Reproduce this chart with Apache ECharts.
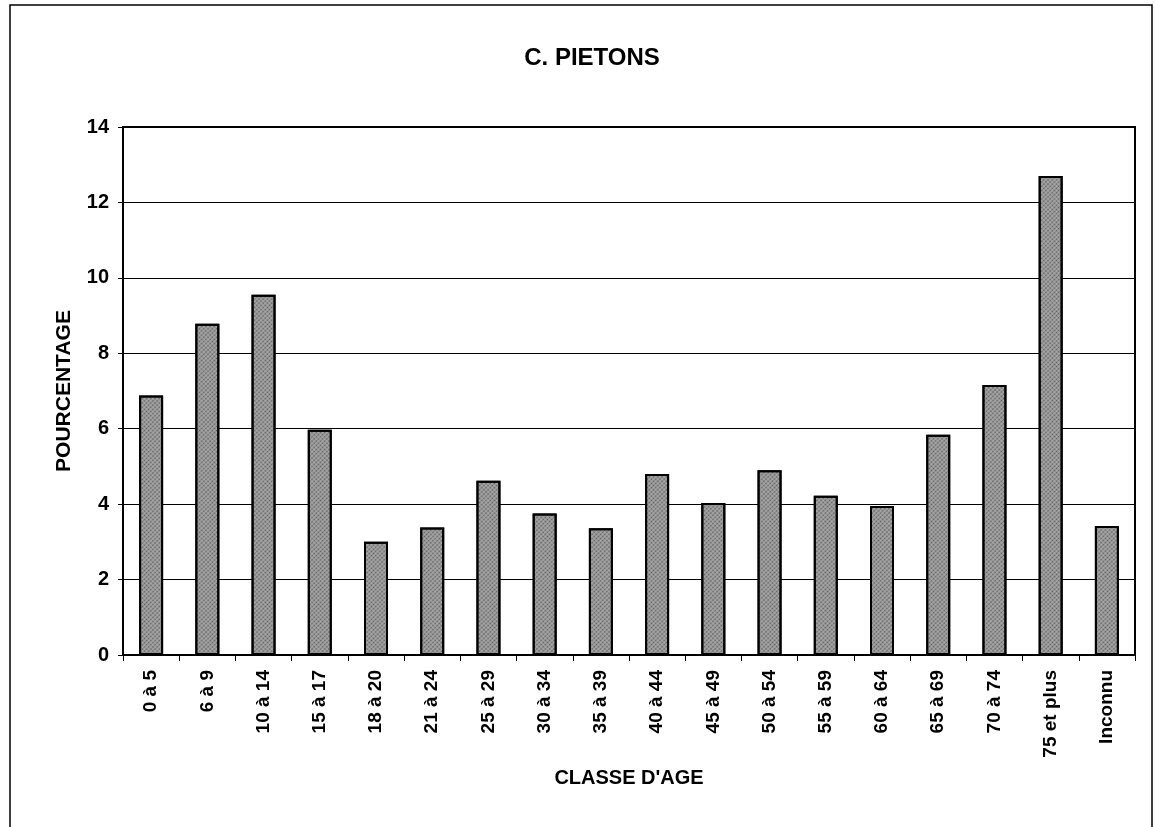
<!DOCTYPE html>
<html>
<head>
<meta charset="utf-8">
<script src="https://cdn.jsdelivr.net/npm/echarts@6/dist/echarts.min.js"></script>
<style>
html,body{margin:0;padding:0;background:#fff;}
#chart{width:1155px;height:827px;}
</style>
</head>
<body>
<div id="chart"></div>
<script>
const categories = ['0 à 5','6 à 9','10 à 14','15 à 17','18 à 20','21 à 24','25 à 29','30 à 34','35 à 39','40 à 44','45 à 49','50 à 54','55 à 59','60 à 64','65 à 69','70 à 74','75 et plus','Inconnu'];
const values = [6.88, 8.78, 9.55, 5.97, 3.0, 3.38, 4.62, 3.75, 3.36, 4.8, 4.03, 4.9, 4.22, 3.95, 5.84, 7.16, 12.7, 3.42];
const yTicks = [0, 2, 4, 6, 8, 10, 12, 14];

const chart = echarts.init(document.getElementById('chart'));
const font = 'Liberation Sans, Arial, sans-serif';
chart.setOption({
  animation: false,
  backgroundColor: '#fff',
  title: {
    text: 'C. PIETONS',
    left: 587, top: 41, textAlign: 'center',
    textStyle: {fontFamily: font, fontSize: 24, fontWeight: 'bold', color: '#000'}
  },
  graphic: [{
    type: 'rect', shape: {x: 10, y: 5, width: 1142, height: 830},
    style: {fill: 'none', stroke: '#000', lineWidth: 1.5}, silent: true
  }],
  grid: {left: 123, right: 20, top: 127, bottom: 172, show: true, borderColor: '#000', borderWidth: 2, backgroundColor: 'transparent'},
  xAxis: {
    type: 'category', data: categories,
    name: "CLASSE D'AGE", nameLocation: 'middle', nameGap: 113,
    nameTextStyle: {fontFamily: font, fontSize: 20, fontWeight: 'bold', color: '#000'},
    axisLine: {lineStyle: {color: '#000', width: 2}},
    axisTick: {show: true, length: 6, lineStyle: {color: '#000', width: 1}},
    axisLabel: {rotate: 90, fontFamily: font, fontSize: 19, fontWeight: 'bold', color: '#000', margin: 15}
  },
  yAxis: {
    type: 'value', min: 0, max: 14, interval: 2,
    name: 'POURCENTAGE', nameLocation: 'middle', nameGap: 48, nameRotate: 90,
    nameTextStyle: {fontFamily: font, fontSize: 21, fontWeight: 'bold', color: '#000'},
    axisLine: {show: true, lineStyle: {color: '#000', width: 2}},
    axisTick: {show: true, length: 5, lineStyle: {color: '#000'}},
    axisLabel: {fontFamily: font, fontSize: 20, fontWeight: 'bold', color: '#000', margin: 14,
      formatter: v => yTicks.includes(v) ? String(v) : ''},
    splitLine: {show: true, lineStyle: {color: '#000', width: 1.2}}
  },
  series: [{
    type: 'bar', data: values, barWidth: 24,
    itemStyle: {
      color: '#a8a8a8', borderColor: '#000', borderWidth: 2,
      decal: {symbol: 'circle', symbolSize: 0.6, color: 'rgba(0,0,0,0.45)', dashArrayX: [3, 0], dashArrayY: [3, 0], rotation: 0.785}
    }
  }]
});
</script>
</body>
</html>
